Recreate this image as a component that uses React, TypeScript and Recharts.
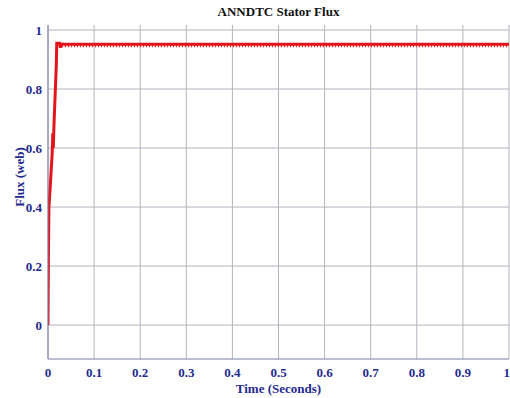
import { LineChart, Line, XAxis, YAxis, CartesianGrid } from "recharts";

// Stator flux (web) versus time (s)
const time = [0, 0.001, 0.002, 0.004, 0.006, 0.009, 0.0105, 0.0115, 0.013, 0.016, 0.018, 0.019, 0.025, 0.027, 0.029, 0.035, 0.2, 0.5, 0.8, 1];
const flux = [0, 0.25, 0.4, 0.45, 0.5, 0.58, 0.65, 0.6, 0.68, 0.8, 0.88, 0.955, 0.955, 0.94, 0.953, 0.952, 0.952, 0.952, 0.952, 0.952];
// lower edge of the ripple band
const rippleTime = [0.03, 1];
const rippleFlux = [0.947, 0.947];

const xTicks = [0, 0.1, 0.2, 0.3, 0.4, 0.5, 0.6, 0.7, 0.8, 0.9, 1];
const yTicks = [0, 0.2, 0.4, 0.6, 0.8, 1];

const data = time.map((t, i) => ({ t, flux: flux[i] }));
const rippleData = rippleTime.map((t, i) => ({ t, ripple: rippleFlux[i] }));

const navy = "#1f2a8f";
const frame = "#7c7ca8";
const tickStyle = { fill: navy, fontSize: 13, fontWeight: 700, fontFamily: "Liberation Serif, Times New Roman, serif" };

export default function App() {
  return (
    <div style={{ position: "absolute", left: 0, top: 0, width: 510, height: 398, background: "#fff", fontFamily: "Liberation Serif, Times New Roman, serif" }}>
      <div style={{ position: "absolute", left: 0, width: 557, top: 4, textAlign: "center", fontSize: 13, fontWeight: 700, color: "#111" }}>
        ANNDTC Stator Flux
      </div>
      <div style={{ position: "absolute", left: 0, width: 557, top: 381, lineHeight: "15px", textAlign: "center", fontSize: 13, fontWeight: 700, color: navy }}>
        Time (Seconds)
      </div>
      <div style={{ position: "absolute", left: 19, top: 177, width: 0, height: 0 }}>
        <div style={{ position: "absolute", lineHeight: "13px", transform: "translate(-50%, -50%) rotate(-90deg)", whiteSpace: "nowrap", fontSize: 13, fontWeight: 700, color: navy }}>
          Flux (web)
        </div>
      </div>
      <LineChart width={510} height={398} margin={{ top: 25, right: 1, left: 0, bottom: 0 }}>
        <CartesianGrid stroke="#b4b4bc" strokeWidth={1} horizontalValues={yTicks} verticalValues={xTicks} />
        <XAxis
          dataKey="t"
          type="number"
          domain={[0, 1]}
          ticks={xTicks}
          allowDataOverflow
          height={39}
          stroke={frame}
          tickLine={false}
          tickSize={4}
          tickMargin={5}
          tick={tickStyle}
        />
        <XAxis xAxisId="top" orientation="top" type="number" domain={[0, 1]} height={0} stroke={frame} tick={false} tickLine={false} />
        <YAxis
          type="number"
          domain={[-0.115, 1.017]}
          ticks={yTicks}
          allowDataOverflow
          width={48}
          stroke={frame}
          tickLine={false}
          tickSize={3}
          tickMargin={3}
          tick={tickStyle}
        />
        <YAxis yAxisId="right" orientation="right" type="number" domain={[-0.115, 1.017]} width={0} stroke={frame} tick={false} tickLine={false} />
        <Line
          data={rippleData}
          dataKey="ripple"
          type="linear"
          stroke="#e3262b"
          strokeWidth={3}
          strokeDasharray="1.2 1.8"
          dot={false}
          isAnimationActive={false}
        />
        <Line
          data={data}
          dataKey="flux"
          type="linear"
          stroke="#e3141b"
          strokeWidth={3}
          dot={false}
          isAnimationActive={false}
        />
      </LineChart>
    </div>
  );
}
